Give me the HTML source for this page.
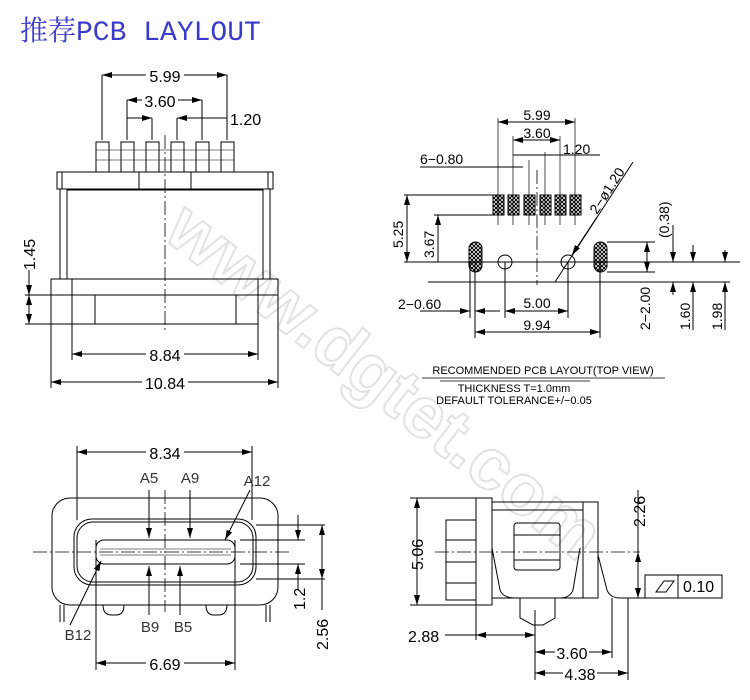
<!DOCTYPE html>
<html><head><meta charset="utf-8"><style>
body{margin:0;background:#fff;width:750px;height:700px;overflow:hidden}
svg{display:block}
text{font-family:"Liberation Sans",sans-serif;font-size:16px;fill:#000}
.s{font-size:12px}
.c{stroke:#000;stroke-width:.8;stroke-dasharray:14 3 2 3;fill:none}
</style></head><body>
<svg width="750" height="700" viewBox="0 0 750 700" xmlns="http://www.w3.org/2000/svg">
<defs>
<marker id="a" viewBox="0 0 10 6" refX="10" refY="3" markerWidth="10" markerHeight="6" orient="auto-start-reverse" markerUnits="userSpaceOnUse"><path d="M0,0L10,3L0,6z" fill="#000"/></marker>
<pattern id="h" width="4" height="4" patternUnits="userSpaceOnUse"><path d="M0,0L4,4M4,0L0,4" stroke="#000" stroke-width="1"/></pattern>
</defs>
<text x="20" y="40" style="font-family:'Liberation Mono','Noto Serif CJK SC',monospace;font-size:28px;fill:#3a3acc">推荐PCB LAYLOUT</text>
<text x="370" y="400" transform="rotate(38 370 400)" text-anchor="middle" style="font-size:72px;font-weight:bold;fill:#fff;stroke:#e2e2e2;stroke-width:2">www.dgtet.com</text>

<g stroke="#000" stroke-width="1" fill="none">
<path d="M102,75V140M127,100V140M152,118V140M177,118V140M202,100V140M227,75V140"/>
<line x1="102" y1="75" x2="227" y2="75" marker-start="url(#a)" marker-end="url(#a)"/>
<line x1="127" y1="100" x2="202" y2="100" marker-start="url(#a)" marker-end="url(#a)"/>
<line x1="127" y1="118" x2="152" y2="118" marker-end="url(#a)"/>
<line x1="227" y1="118" x2="177" y2="118" marker-end="url(#a)"/>
<g fill="#fff">
<rect x="96" y="142" width="13" height="30"/><rect x="121" y="142" width="13" height="30"/><rect x="146" y="142" width="13" height="30"/><rect x="171" y="142" width="13" height="30"/><rect x="196" y="142" width="13" height="30"/><rect x="221" y="142" width="13" height="30"/>
</g>
<path d="M96,150H234M96,160H234" stroke-width=".6"/>
<rect x="57" y="172" width="216" height="17"/>
<path d="M139,172V189M191,172V189M62,172V189M268,172V189"/>
<rect x="60" y="189" width="7" height="90"/><rect x="263" y="189" width="7" height="90"/>
<path d="M67,190H263"/>
<rect x="51" y="279" width="227" height="16"/>
<rect x="72" y="295" width="186" height="29"/>
<path d="M72,279V295M258,279V295M95,295V324M236,295V324"/>
<line x1="165" y1="135" x2="165" y2="330" class="c"/>
<path d="M25,295H72M25,324H72M51,295V388M278,295V388M72,324V360M258,324V360"/>
<line x1="29" y1="270" x2="29" y2="295" marker-end="url(#a)"/>
<line x1="29" y1="310" x2="29" y2="295" marker-end="url(#a)"/>
<line x1="29" y1="310" x2="29" y2="324" marker-end="url(#a)"/>
<line x1="72" y1="354" x2="258" y2="354" marker-start="url(#a)" marker-end="url(#a)"/>
<line x1="51" y1="382" x2="278" y2="382" marker-start="url(#a)" marker-end="url(#a)"/>

<path d="M498,118V225M513,136V225M529,160V225M545,152V225M560,136V225M575,118V225" stroke-width=".7"/>
<line x1="498" y1="122" x2="575" y2="122" marker-start="url(#a)" marker-end="url(#a)"/>
<line x1="513" y1="140" x2="560" y2="140" marker-start="url(#a)" marker-end="url(#a)"/>
<line x1="513" y1="155" x2="600" y2="155"/>
<path d="M420,167H523"/>
<g fill="url(#h)"><rect x="493" y="195" width="11" height="20"/><rect x="508" y="195" width="11" height="20"/><rect x="524" y="195" width="11" height="20"/><rect x="540" y="195" width="11" height="20"/><rect x="555" y="195" width="11" height="20"/><rect x="570" y="195" width="11" height="20"/></g>
<path d="M404,195H493M434,215H493M404,262H740M428,282H730"/>
<line x1="407" y1="262" x2="407" y2="195" marker-end="url(#a)"/>
<line x1="407" y1="195" x2="407" y2="262" marker-end="url(#a)"/>
<line x1="438" y1="262" x2="438" y2="215" marker-end="url(#a)"/>
<g fill="url(#h)"><rect x="469" y="242" width="13" height="30" rx="6.5"/><rect x="594" y="242" width="13" height="30" rx="6.5"/></g>
<circle cx="505" cy="262" r="7"/><circle cx="568" cy="262" r="7"/>
<line x1="537" y1="170" x2="537" y2="285" class="c"/>
<path d="M475,262V338M600,262V338M505,262V318M568,262V318M470,262V318"/>
<line x1="555" y1="282" x2="633" y2="162"/>
<line x1="597" y1="217" x2="572" y2="255" marker-end="url(#a)"/>
<line x1="420" y1="311" x2="470" y2="311" marker-end="url(#a)"/>
<line x1="500" y1="311" x2="475" y2="311" marker-end="url(#a)"/>
<line x1="505" y1="311" x2="568" y2="311" marker-start="url(#a)" marker-end="url(#a)"/>
<line x1="475" y1="332" x2="600" y2="332" marker-start="url(#a)" marker-end="url(#a)"/>
<path d="M607,242H655M607,272H655"/>
<line x1="647" y1="242" x2="647" y2="272" marker-start="url(#a)" marker-end="url(#a)"/>
<line x1="673" y1="225" x2="673" y2="262" marker-end="url(#a)"/>
<line x1="673" y1="295" x2="673" y2="282" marker-end="url(#a)"/>
<line x1="693" y1="245" x2="693" y2="262" marker-end="url(#a)"/>
<line x1="693" y1="330" x2="693" y2="282" marker-end="url(#a)"/>
<line x1="725" y1="250" x2="725" y2="262" marker-end="url(#a)"/>
<line x1="725" y1="330" x2="725" y2="282" marker-end="url(#a)"/>
<path d="M422,378H665M440,381H590" stroke-width=".8"/>

<path d="M77,446V520M252,446V520M96,540V670M235,540V670"/>
<line x1="77" y1="452" x2="252" y2="452" marker-start="url(#a)" marker-end="url(#a)"/>
<rect x="52" y="498" width="226" height="107" rx="18"/>
<rect x="74" y="519" width="182" height="66" rx="18"/>
<rect x="77" y="522" width="176" height="60" rx="16"/>
<rect x="96" y="540" width="139" height="24" rx="8"/>
<path d="M100,549H231M100,555H231" stroke-width=".6"/>
<line x1="33" y1="552" x2="290" y2="552" class="c"/>
<line x1="165" y1="490" x2="165" y2="612" class="c"/>
<path d="M60,605V622M64,605V622M266,605V622M270,605V622M103,605Q103,615 112,615H116Q124,615 124,605M206,605Q206,615 214,615H218Q227,615 227,605"/>
<line x1="149" y1="490" x2="149" y2="538" marker-end="url(#a)"/>
<line x1="190" y1="490" x2="190" y2="538" marker-end="url(#a)"/>
<line x1="250" y1="490" x2="225" y2="540" marker-end="url(#a)"/>
<line x1="149" y1="615" x2="149" y2="566" marker-end="url(#a)"/>
<line x1="180" y1="615" x2="180" y2="566" marker-end="url(#a)"/>
<line x1="70" y1="625" x2="101" y2="561" marker-end="url(#a)"/>
<path d="M256,525H325M240,540H305M240,564H305M256,579H325"/>
<line x1="298" y1="515" x2="298" y2="540" marker-end="url(#a)"/>
<line x1="298" y1="590" x2="298" y2="564" marker-end="url(#a)"/>
<line x1="322" y1="525" x2="322" y2="579" marker-start="url(#a)" marker-end="url(#a)"/>
<line x1="322" y1="579" x2="322" y2="610"/>
<line x1="96" y1="663" x2="235" y2="663" marker-start="url(#a)" marker-end="url(#a)"/>

<rect x="476" y="498" width="16" height="107"/>
<rect x="446" y="520" width="30" height="80"/>
<path d="M446,540H476M446,562H476M446,583H476"/>
<path d="M492,502H598V598H492M583,502V598M492,510H583"/>
<rect x="514" y="523" width="46" height="47" rx="3"/>
<path d="M514,535H560M514,560H560"/>
<path d="M492,548L500,590Q503,598 515,598H520V618L533,625H543L555,618V598H560Q570,598 573,590L580,548"/>
<path d="M598,555L607,590Q610,598 620,598H630"/>
<line x1="435" y1="552" x2="640" y2="552" class="c"/>
<path d="M410,498H476M410,605H476"/>
<line x1="417" y1="498" x2="417" y2="605" marker-start="url(#a)" marker-end="url(#a)"/>
<line x1="638" y1="490" x2="638" y2="552" />
<line x1="638" y1="575" x2="638" y2="552" marker-end="url(#a)"/>
<line x1="638" y1="575" x2="638" y2="598" marker-end="url(#a)"/>
<path d="M628,598H645"/>
<rect x="645" y="575" width="77" height="23"/>
<path d="M678,575V598M656,592L664,581H674L666,592Z"/>
<path d="M476,605V640M535,610V680M612,598V658M628,598V680"/>
<line x1="445" y1="635" x2="476" y2="635" />
<line x1="476" y1="635" x2="535" y2="635" marker-start="url(#a)" marker-end="url(#a)"/>
<line x1="535" y1="652" x2="612" y2="652" marker-start="url(#a)" marker-end="url(#a)"/>
<line x1="535" y1="673" x2="628" y2="673" marker-start="url(#a)" marker-end="url(#a)"/>
</g>

<g>
<rect x="146" y="67" width="38" height="16" fill="#fff"/><text x="165" y="82" text-anchor="middle">5.99</text>
<rect x="142" y="92" width="36" height="16" fill="#fff"/><text x="160" y="107" text-anchor="middle">3.60</text>
<text x="230" y="125">1.20</text>
<text transform="translate(35,270) rotate(-90)">1.45</text>
<rect x="146" y="346" width="38" height="16" fill="#fff"/><text x="165" y="361" text-anchor="middle">8.84</text>
<rect x="142" y="374" width="46" height="16" fill="#fff"/><text x="165" y="389" text-anchor="middle">10.84</text>

<text x="537" y="120" text-anchor="middle" style="font-size:14px">5.99</text>
<text x="537" y="138" text-anchor="middle" style="font-size:14px">3.60</text>
<text x="563" y="154" style="font-size:14px">1.20</text>
<text x="420" y="164" style="font-size:14px">6−0.80</text>
<text transform="translate(403,248) rotate(-90)" style="font-size:14px">5.25</text>
<text transform="translate(434,258) rotate(-90)" style="font-size:14px">3.67</text>
<text transform="translate(597,215) rotate(-57)" style="font-size:14px">2−ø1.20</text>
<text x="398" y="309" style="font-size:14px">2−0.60</text>
<text x="537" y="308" text-anchor="middle" style="font-size:14px">5.00</text>
<text x="537" y="330" text-anchor="middle" style="font-size:14px">9.94</text>
<text transform="translate(650,330) rotate(-90)" style="font-size:14px">2−2.00</text>
<text transform="translate(669,238) rotate(-90)" style="font-size:14px">(0.38)</text>
<text transform="translate(690,330) rotate(-90)" style="font-size:14px">1.60</text>
<text transform="translate(722,330) rotate(-90)" style="font-size:14px">1.98</text>
<text x="543" y="374" text-anchor="middle" style="font-size:11px">RECOMMENDED PCB LAYOUT(TOP VIEW)</text>
<text x="514" y="392" text-anchor="middle" style="font-size:11px">THICKNESS T=1.0mm</text>
<text x="514" y="404" text-anchor="middle" style="font-size:11px">DEFAULT TOLERANCE+/−0.05</text>

<rect x="146" y="444" width="38" height="16" fill="#fff"/><text x="165" y="459" text-anchor="middle">8.34</text>
<text x="149" y="483" text-anchor="middle" style="font-size:15px;fill:#333">A5</text>
<text x="190" y="483" text-anchor="middle" style="font-size:15px;fill:#333">A9</text>
<text x="257" y="486" text-anchor="middle" style="font-size:15px;fill:#333">A12</text>
<text x="78" y="640" text-anchor="middle" style="font-size:15px;fill:#333">B12</text>
<text x="150" y="632" text-anchor="middle" style="font-size:15px;fill:#333">B9</text>
<text x="183" y="632" text-anchor="middle" style="font-size:15px;fill:#333">B5</text>
<text transform="translate(305,610) rotate(-90)">1.2</text>
<text transform="translate(328,650) rotate(-90)">2.56</text>
<rect x="146" y="655" width="38" height="16" fill="#fff"/><text x="165" y="670" text-anchor="middle">6.69</text>

<text transform="translate(423,570) rotate(-90)">5.06</text>
<text transform="translate(645,527) rotate(-90)">2.26</text>
<text x="683" y="592">0.10</text>
<text x="408" y="642">2.88</text>
<rect x="555" y="644" width="34" height="16" fill="#fff"/><text x="572" y="659" text-anchor="middle">3.60</text>
<rect x="563" y="665" width="34" height="16" fill="#fff"/><text x="580" y="680" text-anchor="middle">4.38</text>
</g>
</svg>
</body></html>
